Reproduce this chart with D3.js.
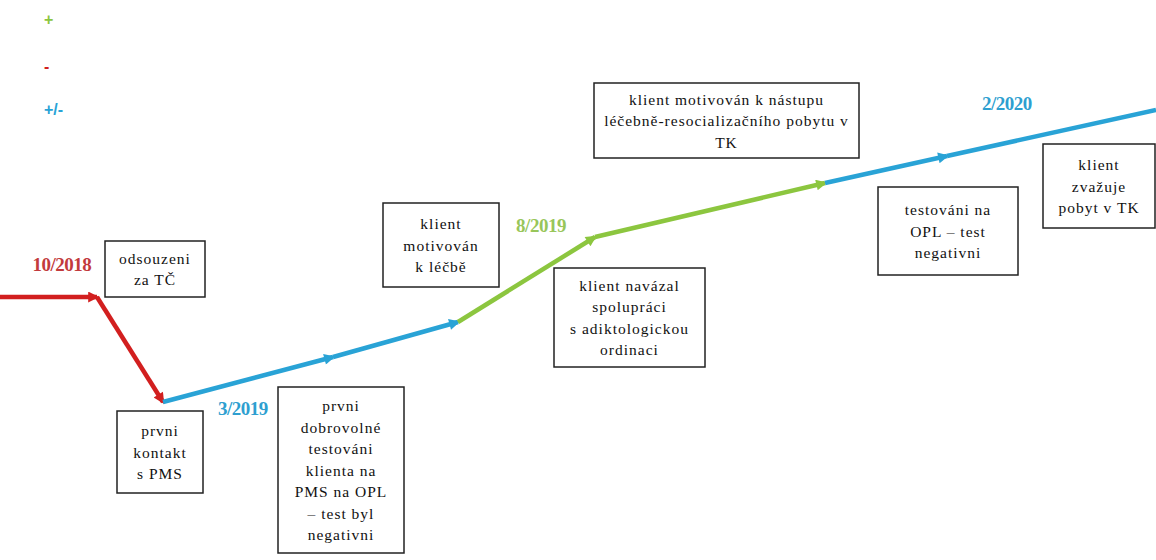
<!DOCTYPE html>
<html><head><meta charset="utf-8">
<script src="https://cdn.jsdelivr.net/npm/d3@7/dist/d3.min.js"></script>
<style>
html,body{margin:0;padding:0;background:#fff;}
svg{display:block;}
svg text.serif{font-family:"Liberation Serif","DejaVu Serif","Times New Roman",serif;}
svg text.sans{font-family:"Liberation Sans","DejaVu Sans",Arial,sans-serif;}
</style></head>
<body>
<svg id="chart" width="1156" height="560"></svg>
<script>
// ---- data ----
const seriesNames = ["+", "-", "+/-"];
const seriesColors = ["#8cc63f", "#d21f1f", "#29a3d6"];
const labelColors = ["#98c65a", "#c23a3c", "#2e9fd0"];

// path vertices (abstract progress units: x = time progress 0-100, y = level 0-100)
const pointX = [0, 8.39, 14.10, 28.81, 39.62, 51.47, 71.37, 81.92, 100];
const pointY = [46.96, 46.96, 28.21, 36.25, 42.50, 57.68, 67.32, 72.14, 80.36];
// segment i joins point i -> i+1
const segmentSeries = ["-", "-", "+/-", "+/-", "+", "+", "+/-", "+/-"];
const segmentArrow = [true, true, true, true, true, true, true, false];

const periodLabels = ["10/2018", "3/2019", "8/2019", "2/2020"];
const periodSeries = ["-", "+/-", "+", "+/-"];
const periodX = [5.36, 21.02, 46.8, 87.11];
const periodY = [52.68, 27.14, 59.82, 81.43];

const boxTexts = [
  ["odsouzeni", "za TČ"],
  ["prvni", "kontakt", "s PMS"],
  ["prvni", "dobrovolné", "testováni", "klienta na", "PMS na OPL", "– test byl", "negativni"],
  ["klient", "motivován", "k léčbě"],
  ["klient navázal", "spolupráci", "s adiktologickou", "ordinaci"],
  ["klient motivován k nástupu", "léčebně-resocializačního pobytu v", "TK"],
  ["testováni na", "OPL – test", "negativni"],
  ["klient", "zvažuje", "pobyt v TK"]
];
// box layout [left, top, right, bottom] in px
const boxLayout = [
  [105, 241, 205, 297],
  [117, 411, 203, 493],
  [278, 387, 404, 553],
  [383, 203, 499, 287],
  [554, 268, 705, 367],
  [594, 83, 859, 158],
  [878, 187, 1018, 275],
  [1043, 144, 1155, 228]
];

// ---- drawing ----
const svg = d3.select("#chart");
const W = 1156, H = 560;
const x = d3.scaleLinear().domain([0, 100]).range([0, W]);
const y = d3.scaleLinear().domain([0, 100]).range([H, 0]);
const color = d3.scaleOrdinal().domain(seriesNames).range(seriesColors);
const labelColor = d3.scaleOrdinal().domain(seriesNames).range(labelColors);

const defs = svg.append("defs");
seriesNames.forEach((s, i) => {
  defs.append("marker")
    .attr("id", "arrow" + i)
    .attr("viewBox", "0 0 10 10")
    .attr("refX", 8).attr("refY", 5)
    .attr("markerWidth", 14).attr("markerHeight", 11)
    .attr("markerUnits", "userSpaceOnUse")
    .attr("orient", "auto")
    .append("path")
    .attr("d", "M0,0 L10,5 L0,10 Z")
    .attr("fill", seriesColors[i]);
});

// legend
const legend = svg.append("g");
seriesNames.forEach((s, i) => {
  legend.append("text")
    .attr("class", "sans")
    .attr("x", 44)
    .attr("y", [25, 72, 115][i])
    .attr("font-weight", "bold")
    .attr("font-size", 16)
    .attr("fill", seriesColors[i])
    .text(s);
});

// segments
const segs = segmentSeries.map((s, i) => ({
  x1: pointX[i], y1: pointY[i], x2: pointX[i + 1], y2: pointY[i + 1], s, arrow: segmentArrow[i]
}));
svg.append("g").selectAll("line").data(segs).join("line")
  .attr("x1", d => x(d.x1)).attr("y1", d => y(d.y1))
  .attr("x2", d => x(d.x2)).attr("y2", d => y(d.y2))
  .attr("stroke", d => color(d.s))
  .attr("stroke-width", 4.5)
  .attr("stroke-linecap", "butt")
  .attr("marker-end", d => d.arrow ? `url(#arrow${seriesNames.indexOf(d.s)})` : null);

// period labels
svg.append("g").selectAll("text").data(periodLabels).join("text")
  .attr("class", "serif")
  .attr("x", (d, i) => x(periodX[i]))
  .attr("y", (d, i) => y(periodY[i]))
  .attr("text-anchor", "middle")
  .attr("dominant-baseline", "central")
  .attr("font-weight", "bold")
  .attr("font-size", 19)
  .attr("letter-spacing", -0.5)
  .attr("fill", (d, i) => labelColor(periodSeries[i]))
  .text(d => d);

// boxes
const boxes = svg.append("g").selectAll("g").data(boxTexts).join("g");
boxes.append("rect")
  .attr("x", (d, i) => boxLayout[i][0])
  .attr("y", (d, i) => boxLayout[i][1])
  .attr("width", (d, i) => boxLayout[i][2] - boxLayout[i][0])
  .attr("height", (d, i) => boxLayout[i][3] - boxLayout[i][1])
  .attr("fill", "#fff")
  .attr("stroke", "#222")
  .attr("stroke-width", 1.5);
boxes.each(function (lines, i) {
  const [l, t, r, b] = boxLayout[i];
  const lh = 21.5;
  const cx = (l + r) / 2;
  const cy = (t + b) / 2;
  const startY = cy - (lines.length - 1) * lh / 2;
  d3.select(this).selectAll("text").data(lines).join("text")
    .attr("class", "serif")
    .attr("x", cx)
    .attr("y", (d, j) => startY + j * lh)
    .attr("text-anchor", "middle")
    .attr("dominant-baseline", "central")
    .attr("font-size", 15.5)
    .attr("letter-spacing", 1)
    .attr("fill", "#111")
    .text(d => d);
});
</script>
</body></html>
